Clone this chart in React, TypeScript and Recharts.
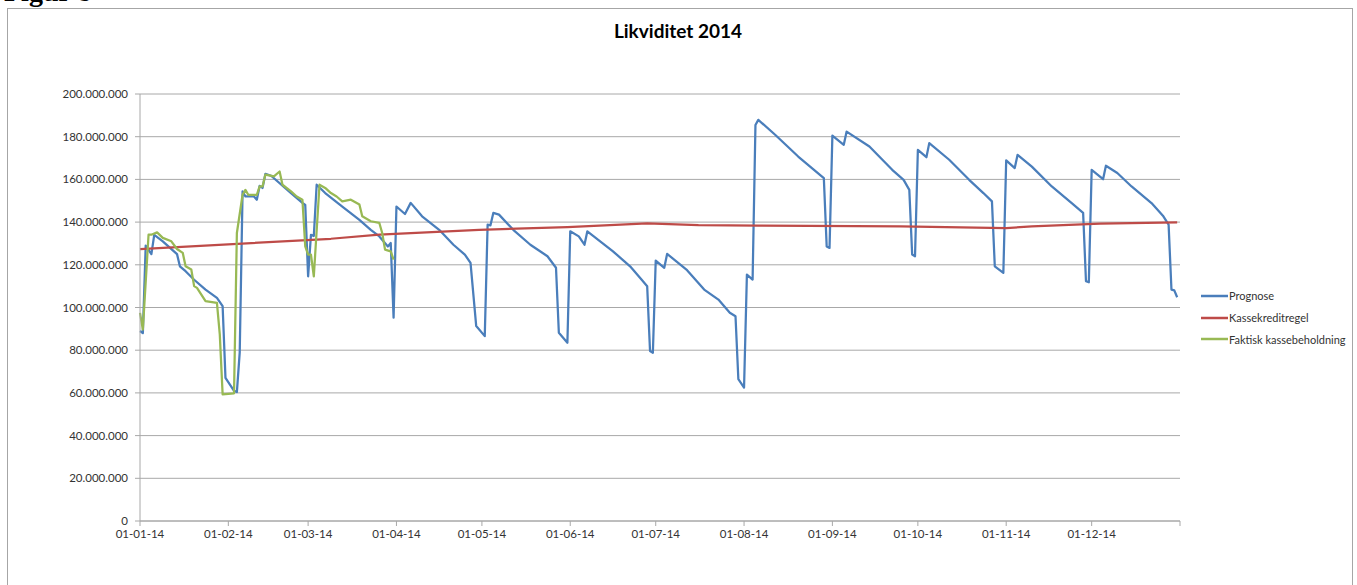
import { LineChart, Line, XAxis, YAxis, CartesianGrid } from 'recharts'

// x = day of 2014 (0 = 1 Jan), y = kroner in millions
const monthDays = [0, 31, 59, 90, 120, 151, 181, 212, 243, 273, 304, 334, 365]
const monthLabels = [
  '01-01-14', '01-02-14', '01-03-14', '01-04-14', '01-05-14', '01-06-14',
  '01-07-14', '01-08-14', '01-09-14', '01-10-14', '01-11-14', '01-12-14', ''
]
const yTicks = [0, 20, 40, 60, 80, 100, 120, 140, 160, 180, 200]

const prognose: [number, number][] = [
  [0, 89], [1, 88], [2, 129], [4, 125], [5, 134], [8, 131], [13, 125], [14, 119.3],
  [16, 117], [19, 113], [23, 108.4], [27, 104.5], [29, 100.6], [30, 67], [33, 61],
  [34, 60.4], [35, 79], [36, 154.4], [37, 152], [40, 152], [41, 150.5], [42, 157],
  [43, 156], [44, 162.6], [46, 161.7], [53, 153.6], [57, 149], [58, 148], [59, 114.6],
  [60, 134], [61, 133.5], [62, 157.5], [65, 153.6], [71, 147.3], [77, 141], [81, 136.4],
  [84, 133.3], [87, 128.6], [88, 130.2], [89, 95.2], [90, 147.3], [93, 143.8], [95, 149],
  [99, 142.7], [105, 136.4], [110, 129.4], [114, 124.8], [116, 120.9], [118, 91.3],
  [121, 86.6], [122, 138.8], [123, 138.5], [124, 144.3], [126, 143.5], [131, 136.4],
  [137, 129.4], [143, 124], [146, 118.6], [147, 88.2], [150, 83.5], [151, 135.7],
  [154, 133.3], [156, 129.4], [157, 135.7], [166, 126.3], [172, 119.3], [176, 113.1],
  [178, 110], [179, 79.6], [180, 78.8], [181, 122], [184, 118.6], [185, 125.1],
  [192, 117.5], [198, 108.4], [203, 103.7], [207, 97.5], [209, 95.9], [210, 66.4],
  [212, 62.5], [213, 115.4], [215, 113.1], [216, 185.5], [217, 187.9], [223, 180.8],
  [231, 170.7], [240, 160.6], [241, 128.6], [242, 127.9], [243, 180.5], [247, 176.2],
  [248, 182.4], [256, 175.4], [264, 164.5], [268, 159.8], [270, 155.1], [271, 124.8],
  [272, 124], [273, 173.8], [276, 170.4], [277, 177], [284, 169.2], [291, 159.8],
  [296, 153.6], [299, 149.7], [300, 119.3], [303, 116.2], [304, 168.9], [307, 165.3],
  [308, 171.5], [313, 166], [320, 156.7], [327, 148.9], [331, 144.3], [332, 112.3],
  [333, 111.8], [334, 164.5], [338, 160.1], [339, 166.4], [343, 163], [348, 156.7],
  [355, 148.9], [359, 143], [361, 138.8], [362, 108.4], [363, 108], [364, 104.8]
]

const kassekreditregel: [number, number][] = [
  [0, 127.3], [67, 132.2], [84, 134.1], [119, 136.4], [150, 137.7], [178, 139.4],
  [196, 138.6], [217, 138.4], [267, 138], [304, 137.2], [313, 138], [337, 139.3],
  [364, 139.9]
]

const faktisk: [number, number][] = [
  [0, 97.5], [1, 89.7], [3, 134.1], [4, 134.1], [6, 135.2], [8, 132.6], [11, 131],
  [13, 127.4], [15, 125.6], [16, 119.3], [18, 117.8], [19, 110], [20, 109.2], [23, 103],
  [27, 102.2], [28, 87.4], [29, 59.3], [33, 59.8], [34, 134.9], [36, 152.8], [37, 155.1],
  [38, 152.8], [41, 152.8], [42, 156.7], [43, 156.7], [44, 162.2], [47, 161.4],
  [49, 163.7], [50, 157.5], [53, 154.4], [55, 152], [57, 150.5], [58, 128.6], [59, 124.8],
  [60, 124.8], [61, 114.6], [63, 157.5], [65, 156], [67, 153.6], [69, 152], [71, 149.7],
  [74, 150.5], [77, 148.2], [78, 142.7], [81, 140.4], [84, 139.6], [85, 134.9],
  [86, 127.1], [88, 126.3], [89, 122.4]
]

const series = [
  { name: 'Prognose', points: prognose, color: '#4A7EBB' },
  { name: 'Kassekreditregel', points: kassekreditregel, color: '#BE4B48' },
  { name: 'Faktisk kassebeholdning', points: faktisk, color: '#98B954' }
]

const font = 'Lato, "Open Sans", sans-serif'

const formatMillions = (v: number) => (v === 0 ? '0' : `${v}.000.000`)
const formatMonth = (d: number) => monthLabels[monthDays.indexOf(d)] ?? ''

export default function App() {
  return (
    <div
      style={{
        position: 'fixed',
        left: 0,
        top: 0,
        width: 1357,
        height: 585,
        overflow: 'hidden',
        background: '#fff'
      }}>
      <div
        style={{
          position: 'absolute',
          left: 4,
          top: -22,
          fontFamily: '"Liberation Serif", serif',
          fontWeight: 'bold',
          fontSize: 28,
          lineHeight: '28px',
          color: '#000'
        }}>
        Figur 8
      </div>
      <div
        style={{
          position: 'absolute',
          left: 7,
          top: 8,
          width: 1344,
          height: 620,
          border: '1px solid #a6a6a6'
        }}
      />
      <div
        style={{
          position: 'absolute',
          left: 478,
          width: 400,
          top: 21,
          textAlign: 'center',
          fontFamily: font,
          fontWeight: 'bold',
          fontSize: 19,
          lineHeight: '20px',
          color: '#000'
        }}>
        Likviditet 2014
      </div>
      <div style={{ position: 'absolute', left: 0, top: 0 }}>
        <LineChart
          width={1357}
          height={585}
          margin={{ top: 94, right: 177, bottom: 34, left: 0 }}
          style={{ fontFamily: font }}>
          <CartesianGrid vertical={false} stroke="#a8a8a8" strokeWidth={1} />
          <XAxis
            dataKey="d"
            type="number"
            domain={[0, 365]}
            ticks={monthDays}
            interval={0}
            tickFormatter={formatMonth}
            height={30}
            stroke="#a8a8a8"
            tickSize={5}
            tickMargin={4}
            tick={{ fill: '#333', fontSize: 11.5 }}
          />
          <YAxis
            type="number"
            domain={[0, 200]}
            ticks={yTicks}
            interval={0}
            tickFormatter={formatMillions}
            width={140}
            stroke="#a8a8a8"
            tickSize={5}
            tickMargin={7}
            tick={{ fill: '#333', fontSize: 11.5 }}
          />
          {series.map((s) => (
            <Line
              key={s.name}
              name={s.name}
              data={s.points.map(([d, v]) => ({ d, v }))}
              dataKey="v"
              type="linear"
              stroke={s.color}
              strokeWidth={2.25}
              strokeLinejoin="round"
              dot={false}
              activeDot={false}
              isAnimationActive={false}
            />
          ))}
        </LineChart>
      </div>
      <div style={{ position: 'absolute', left: 1201, top: 285 }}>
        {series.map((s) => (
          <div
            key={s.name}
            style={{
              display: 'flex',
              alignItems: 'center',
              height: 21.7,
              fontFamily: font,
              fontSize: 11,
              color: '#333',
              whiteSpace: 'nowrap'
            }}>
            <svg width={27} height={4} style={{ marginRight: 1 }}>
              <line x1={0} y1={2} x2={27} y2={2} stroke={s.color} strokeWidth={2.5} />
            </svg>
            {s.name}
          </div>
        ))}
      </div>
    </div>
  )
}
